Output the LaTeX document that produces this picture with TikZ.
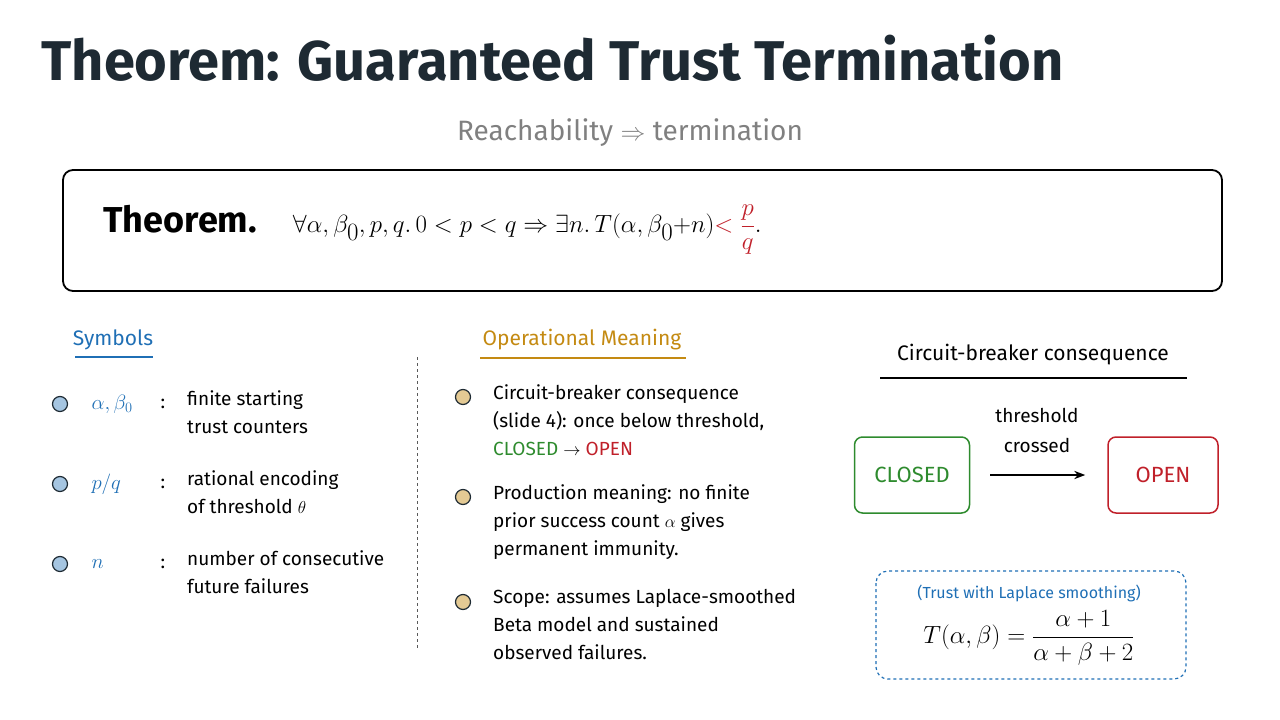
\documentclass[tikz,border=0pt]{standalone}
\usepackage{amsmath}
\usepackage{fontspec}
\setmainfont{Fira Sans}
\usetikzlibrary{positioning,arrows.meta,patterns}
\definecolor{inkblue}{HTML}{1F6FB5}
\definecolor{inkorange}{HTML}{C48A12}
\definecolor{inkgreen}{HTML}{2E8B2E}
\definecolor{inkred}{HTML}{C0202A}
\definecolor{inkdark}{HTML}{1E2A33}
\tikzset{
  body/.style={font=\fontsize{19}{28}\selectfont, align=left, anchor=north west, inner sep=0pt},
  dot/.style={circle, draw=inkdark, line width=1.2pt, minimum size=15pt, inner sep=0pt,
              fill=inkblue!40},
  odot/.style={dot, fill=inkorange!45},
  statebox/.style={draw, rounded corners=8pt, line width=1.5pt, minimum width=115pt,
                   minimum height=76pt, font=\fontsize{22}{26}\selectfont},
}
\begin{document}
\begin{tikzpicture}[x=1pt, y=-1pt]
    \useasboundingbox (0,0) rectangle (1280,720);

    % title and subtitle
    \node[anchor=west, text=inkdark, font=\fontsize{56}{60}\selectfont\bfseries] (title) at (38,58)
        {Theorem: Guaranteed Trust Termination};
    \node[text=gray, font=\fontsize{28}{32}\selectfont] (sub) at (630,133)
        {Reachability $\Rightarrow$ termination};

    % theorem box
    \draw[rounded corners=10pt, line width=1.8pt] (63,170) rectangle (1222,291);
    \node[anchor=west, font=\fontsize{36}{40}\selectfont] (thm) at (100,230)
        {\textbf{Theorem.}\quad $\forall\alpha,\beta_0,p,q.\,0<p<q\Rightarrow\exists n.\,T(\alpha,\beta_0{+}n)
         \textcolor{inkred}{<\dfrac{p}{q}}.$};

    % symbols column
    \node[text=inkblue, font=\fontsize{21}{24}\selectfont] (symhead) at (113,340) {Symbols};
    \draw[inkblue, line width=1.5pt] (75,357) -- (153,357);
    \foreach \y/\sym/\txt in {404/{$\alpha,\beta_0$}/{finite starting\\trust counters},
                             484/{$p/q$}/{rational encoding\\of threshold $\theta$},
                             564/{$n$}/{number of consecutive\\future failures}} {
        \node[dot] at (60,\y) {};
        \node[anchor=west, text=inkblue, font=\fontsize{22}{26}\selectfont] at (88,\y) {\sym};
        \node[font=\fontsize{19}{24}\selectfont] at (163,\y) {:};
        \node[body] at (187,\y-14) {\txt};
    }

    \draw[dashed, gray!70!black, line width=1pt] (417,357) -- (417,650);

    % operational meaning column
    \node[text=inkorange, font=\fontsize{21}{24}\selectfont] (ophead) at (582,340) {Operational Meaning};
    \draw[inkorange, line width=1.5pt] (480,358) -- (686,358);
    \node[odot] at (463,397) {};
    \node[body] (op1) at (493,384) {Circuit-breaker consequence\\(slide 4): once below threshold,\\
        \textcolor{inkgreen}{CLOSED} $\rightarrow$ \textcolor{inkred}{OPEN}};
    \node[odot] at (463,497) {};
    \node[body] (op2) at (493,484) {Production meaning: no finite\\prior success count $\alpha$ gives\\permanent immunity.};
    \node[odot] at (463,602) {};
    \node[body] (op3) at (493,589) {Scope: assumes Laplace-smoothed\\Beta model and sustained\\observed failures.};

    % circuit breaker
    \node[font=\fontsize{21}{24}\selectfont] (cbhead) at (1033,355) {Circuit-breaker consequence};
    \draw[line width=1.5pt] (880,378) -- (1187,378);
    \node[statebox, draw=inkgreen, text=inkgreen] (closed) at (912,475) {CLOSED};
    \node[statebox, draw=inkred, text=inkred, minimum width=110pt] (open) at (1163,475) {OPEN};
    \draw[-{Stealth[length=11pt]}, line width=1.8pt] ([xshift=20pt]closed.east) coordinate (a)
        -- ([xshift=-22pt]open.west) coordinate (b);
    \node[align=center, font=\fontsize{19}{30}\selectfont] (thr) at (1037,430) {threshold\\crossed};

    % laplace box
    \draw[dashed, inkblue, rounded corners=12pt, line width=1.2pt] (876,571) rectangle (1186,679);
    \node[text=inkblue, font=\fontsize{16}{18}\selectfont] (lhead) at (1029,593) {(Trust with Laplace smoothing)};
    \node[font=\fontsize{24}{28}\selectfont] (lform) at (1029,638)
        {$T(\alpha,\beta)=\dfrac{\alpha+1}{\alpha+\beta+2}$};
\end{tikzpicture}
\end{document}
